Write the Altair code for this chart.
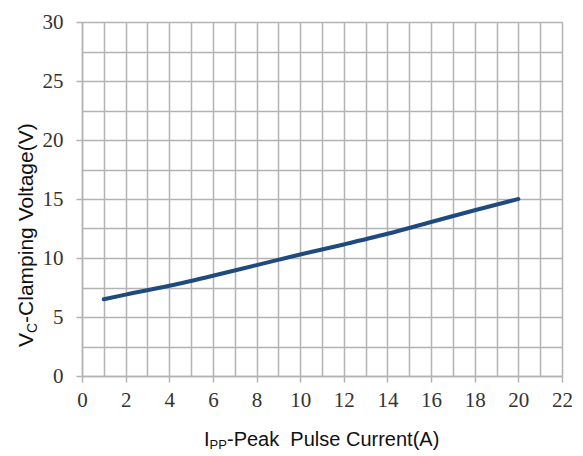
import altair as alt
import pandas as pd

# data
ipp = [1, 2, 4, 6, 8, 10, 12, 14, 16, 18, 20]
vc = [6.5, 6.9, 7.65, 8.5, 9.4, 10.3, 11.15, 12.05, 13.05, 14.05, 15.0]

x_grid_values = list(range(0, 23))
y_grid_values = [i * 2.5 for i in range(0, 13)]

x_title_main = "I"
x_title_sub = "PP"
x_title_rest = "-Peak\u00a0 Pulse Current(A)"
y_title_main = "V"
y_title_sub = "C"
y_title_rest = "-Clamping Voltage(V)"

df = pd.DataFrame({"ipp": ipp, "vc": vc})

W, H = 480, 354
GRID = "#b3b3b3"
LINE = "#1f4a7e"
SERIF = "Liberation Serif"
SANS = "Liberation Sans"

x_axis = alt.Axis(
    values=x_grid_values,
    labelExpr="datum.value % 2 === 0 ? datum.label : ''",
    labelFont=SERIF, labelFontSize=21, labelColor="#333333", labelPadding=7,
    labelFlush=False, labelOverlap=False,
    tickSize=6, tickWidth=1.5,
    tickColor={"condition": {"test": "datum.value % 2 === 0", "value": GRID}, "value": "transparent"},
    grid=True, gridColor=GRID, gridWidth=1.5,
    domainColor=GRID, domainWidth=1.5, title=None,
)
y_axis = alt.Axis(
    values=y_grid_values,
    labelExpr="datum.value % 5 === 0 ? datum.label : ''",
    labelFont=SERIF, labelFontSize=21, labelColor="#333333", labelPadding=13,
    labelFlush=False, labelOverlap=False,
    tickSize=6, tickWidth=1.5,
    tickColor={"condition": {"test": "datum.value % 5 === 0", "value": GRID}, "value": "transparent"},
    grid=True, gridColor=GRID, gridWidth=1.5,
    domainColor=GRID, domainWidth=1.5, title=None,
)

line = alt.Chart(df).mark_line(color=LINE, strokeWidth=4, interpolate="monotone", strokeCap="round").encode(
    x=alt.X("ipp:Q", scale=alt.Scale(domain=[0, 22], nice=False, zero=False), axis=x_axis),
    y=alt.Y("vc:Q", scale=alt.Scale(domain=[0, 30], nice=False), axis=y_axis),
)

one = alt.Data(values=[{"a": 1}])


def txt(text, x, y, size, angle=0):
    return alt.Chart(one).mark_text(
        text=text, font=SANS, fontSize=size, color="#111111", align="left",
        baseline="alphabetic", angle=angle,
    ).encode(x=alt.value(x), y=alt.value(y))


xs = 122
xb = 424
xt1 = txt(x_title_main, xs, xb, 20)
xt2 = txt(x_title_sub, xs + 5.6, xb + 3, 13)
xt3 = txt(x_title_rest, xs + 5.6 + 17.4, xb, 20)

ys = 325
yt1 = txt(y_title_main, -49, ys, 21, angle=270)
yt2 = txt(y_title_sub, -45, ys - 14, 14, angle=270)
yt3 = txt(y_title_rest, -49, ys - 14 - 10.1, 21, angle=270)

chart = alt.layer(line, xt1, xt2, xt3, yt1, yt2, yt3).properties(
    width=W, height=H,
    autosize=alt.AutoSizeParams(type="none"),
    padding={"left": 74, "top": 14, "right": 12, "bottom": 75},
).configure_view(stroke=None).configure(background="white")

chart.save("out.html", embed_options={"renderer": "svg", "actions": False})
